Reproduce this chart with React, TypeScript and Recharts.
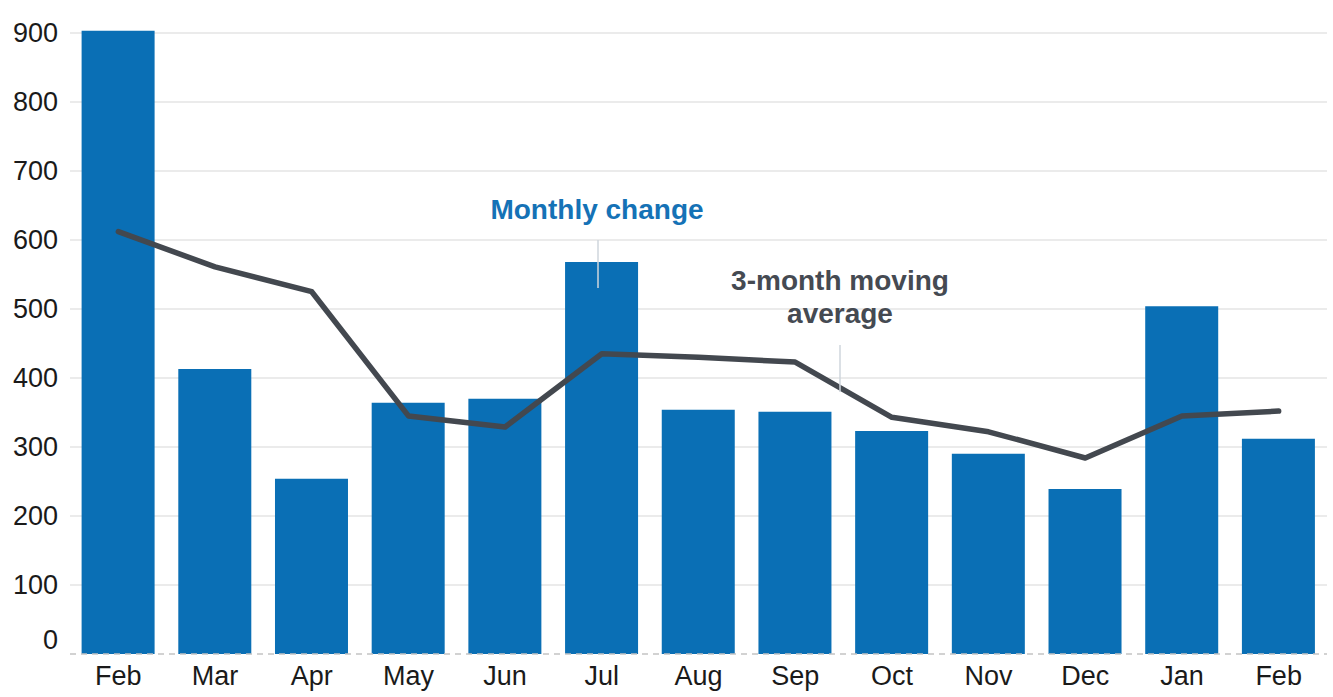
import React from 'react';
import { ComposedChart, Bar, Line, XAxis, YAxis, CartesianGrid } from 'recharts';

const months = ['Feb', 'Mar', 'Apr', 'May', 'Jun', 'Jul', 'Aug', 'Sep', 'Oct', 'Nov', 'Dec', 'Jan', 'Feb'];
const monthlyChange = [903, 413, 254, 364, 370, 568, 354, 351, 323, 290, 239, 504, 312];
const movingAverage = [612, 561, 525, 345, 329, 435, 430, 423, 343, 322, 284, 345, 352];
const yTicks = [0, 100, 200, 300, 400, 500, 600, 700, 800, 900];

const data = months.map((m, i) => ({
  key: `${m}-${i}`,
  month: m,
  change: monthlyChange[i],
  avg: movingAverage[i],
}));

const FONT = '"Liberation Sans", Arial, sans-serif';
const BLUE = '#0a6fb5';
const LINE = '#43484f';

function YTick({ x, y, payload }: any) {
  // the zero label sits a little above the baseline
  const dy = payload.value === 0 ? -15 : 0;
  return (
    <text x={x - 4} y={y + dy} dy={9.5} textAnchor="end" fontFamily={FONT} fontSize={27} fill="#1a1a1a">
      {payload.value}
    </text>
  );
}

function XTick({ x, y, payload }: any) {
  return (
    <text x={x} y={y} dy={23} textAnchor="middle" fontFamily={FONT} fontSize={27} fill="#1a1a1a">
      {months[payload.index] ?? payload.value}
    </text>
  );
}

function GridLine(props: any) {
  // skip the baseline (dashed axis drawn instead) and the padded top edge
  if (props.y1 >= props.y + props.height - 0.5 || props.y1 <= props.y + 0.5) return <g key={props.key} />;
  return <line key={props.key} x1={props.x1} x2={props.x2} y1={props.y1} y2={props.y2} stroke="#ebebeb" strokeWidth={2} />;
}

export default function App() {
  return (
    <div style={{ position: 'absolute', left: 0, top: 0, width: 1333, height: 697, background: '#fff' }}>
      <ComposedChart
        width={1333}
        height={697}
        data={data}
        margin={{ top: 26, right: 6, left: 0, bottom: 0 }}
        barCategoryGap="12%"
      >
        <CartesianGrid vertical={false} horizontal={GridLine} />
        <XAxis
          dataKey="key"
          tick={<XTick />}
          tickLine={false}
          axisLine={{ stroke: '#c4c4c4', strokeDasharray: '6 5', strokeWidth: 1.5 }}
          interval={0}
          height={43}
        />
        <YAxis
          domain={[0, 910]}
          ticks={yTicks}
          tick={<YTick />}
          tickLine={false}
          axisLine={false}
          width={70}
          interval={0}
        />
        <Bar dataKey="change" fill={BLUE} isAnimationActive={false} />
        <Line
          dataKey="avg"
          type="linear"
          stroke={LINE}
          strokeWidth={5.5}
          dot={false}
          strokeLinejoin="round"
          strokeLinecap="round"
          isAnimationActive={false}
        />
      </ComposedChart>
      <svg width={1333} height={697} style={{ position: 'absolute', left: 0, top: 0, pointerEvents: 'none' }}>
        <text x={597} y={219} textAnchor="middle" fontFamily={FONT} fontWeight="bold" fontSize={28} fill="#1572b6">
          Monthly change
        </text>
        <line x1={598} y1={240} x2={598} y2={288} stroke="#cfd6dd" strokeWidth={1.5} />
        <text x={840} y={290} textAnchor="middle" fontFamily={FONT} fontWeight="bold" fontSize={28} fill="#454a52">
          3-month moving
        </text>
        <text x={840} y={323} textAnchor="middle" fontFamily={FONT} fontWeight="bold" fontSize={28} fill="#454a52">
          average
        </text>
        <line x1={840} y1={345} x2={840} y2={392} stroke="#cfd6dd" strokeWidth={1.5} />
      </svg>
    </div>
  );
}
